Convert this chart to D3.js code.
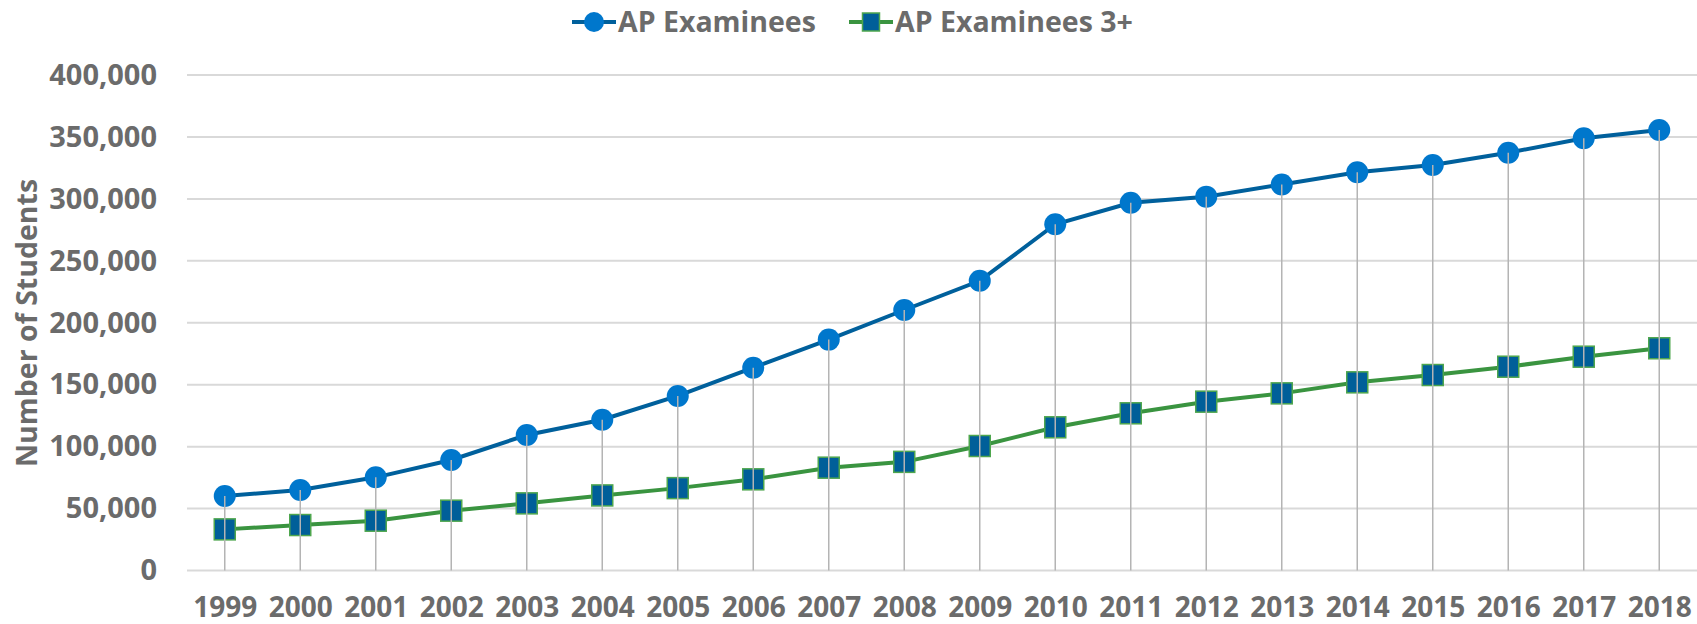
<!DOCTYPE html>
<html>
<head>
<meta charset="utf-8">
<script src="https://cdn.jsdelivr.net/npm/d3@7"></script>
<style>
  body { margin: 0; background: #fff; }
  text { font-family: "Open Sans", "Noto Sans", sans-serif; font-weight: 700; fill: #6b6b6b; }
</style>
</head>
<body>
<div id="chart"></div>
<script>
const years = ["1999","2000","2001","2002","2003","2004","2005","2006","2007","2008",
               "2009","2010","2011","2012","2013","2014","2015","2016","2017","2018"];
const examinees = [60100, 65000, 75200, 89200, 109400, 121700, 140900, 163700, 186400, 210300,
                   233900, 279500, 296900, 301800, 311600, 321500, 327300, 337300, 348900, 355600];
const examinees3 = [33200, 36700, 40200, 48300, 54200, 60600, 66500, 73600, 83000, 87700,
                    100500, 115600, 126900, 136300, 143000, 151900, 157800, 164500, 172600, 179400];
const yTicks = [0, 50000, 100000, 150000, 200000, 250000, 300000, 350000, 400000];
const seriesNames = ["AP Examinees", "AP Examinees 3+"];

const W = 1697, H = 624;
const margin = {top: 75, right: 0, bottom: 53.5, left: 187};
const w = W - margin.left - margin.right,
      h = H - margin.top - margin.bottom;

const svg = d3.select("#chart")
  .append("svg")
  .attr("width", W)
  .attr("height", H);

const g = svg.append("g")
  .attr("transform", "translate(" + margin.left + "," + margin.top + ")");

const x = d3.scalePoint()
  .domain(years)
  .range([0, w])
  .padding(0.5);

const y = d3.scaleLinear()
  .domain([0, 400000])
  .range([h, 0]);

// gridlines
g.append("g")
  .selectAll("line")
  .data(yTicks)
  .enter()
  .append("line")
  .attr("x1", 0)
  .attr("x2", w)
  .attr("y1", d => y(d))
  .attr("y2", d => y(d))
  .style("stroke", "#d9d9d9")
  .style("stroke-width", 2);

// y axis labels
const yAxis = d3.axisLeft(y)
  .tickValues(yTicks)
  .tickSize(0)
  .tickPadding(30)
  .tickFormat(d3.format(","));

g.append("g")
  .attr("class", "y-axis")
  .call(yAxis)
  .call(s => s.select(".domain").remove())
  .selectAll("text")
  .style("font-size", "29px")
  .attr("fill", "#6b6b6b");

// x axis labels
const xAxis = d3.axisBottom(x).tickSize(0).tickPadding(27);
g.append("g")
  .attr("transform", "translate(0," + h + ")")
  .call(xAxis)
  .call(s => s.select(".domain").remove())
  .selectAll("text")
  .style("font-size", "28px")
  .attr("fill", "#6b6b6b");

// y title
svg.append("text")
  .attr("transform", "translate(" + 37 + "," + 323 + ") rotate(-90)")
  .attr("text-anchor", "middle")
  .style("font-size", "28.5px")
  .text("Number of Students");

// lines
const line = d3.line()
  .x((d, i) => x(years[i]))
  .y(d => y(d));

g.append("path")
  .datum(examinees)
  .attr("d", line)
  .style("fill", "none")
  .style("stroke", "#00609c")
  .style("stroke-width", 4);

g.append("path")
  .datum(examinees3)
  .attr("d", line)
  .style("fill", "none")
  .style("stroke", "#3a9440")
  .style("stroke-width", 4);

// markers
g.selectAll("circle.pt")
  .data(examinees)
  .enter()
  .append("circle")
  .attr("class", "pt")
  .attr("cx", (d, i) => x(years[i]))
  .attr("cy", d => y(d))
  .attr("r", 11)
  .style("fill", "#0077cc");

const sq = 21;
g.selectAll("rect.pt")
  .data(examinees3)
  .enter()
  .append("rect")
  .attr("class", "pt")
  .attr("x", (d, i) => x(years[i]) - sq / 2)
  .attr("y", d => y(d) - sq / 2)
  .attr("width", sq)
  .attr("height", sq)
  .style("fill", "#005f99")
  .style("stroke", "#4ea64e")
  .style("stroke-width", 1.5);

// drop lines
g.selectAll("line.drop")
  .data(examinees)
  .enter()
  .append("line")
  .attr("class", "drop")
  .attr("x1", (d, i) => x(years[i]))
  .attr("x2", (d, i) => x(years[i]))
  .attr("y1", d => y(d))
  .attr("y2", h)
  .style("stroke", "#b4b4b4")
  .style("stroke-width", 1.5);

// legend
const legend = svg.append("g").attr("transform", "translate(0,22)");
const legItems = [
  {name: seriesNames[0], x: 572, type: "circle", line: "#00609c"},
  {name: seriesNames[1], x: 849, type: "rect", line: "#3a9440"}
];
legItems.forEach(it => {
  const lg = legend.append("g").attr("transform", "translate(" + it.x + ",0)");
  lg.append("line")
    .attr("x1", 0).attr("x2", 44)
    .attr("y1", 0).attr("y2", 0)
    .style("stroke", it.line)
    .style("stroke-width", 4);
  if (it.type === "circle") {
    lg.append("circle").attr("cx", 22).attr("cy", 0).attr("r", 10).style("fill", "#0077cc");
  } else {
    lg.append("rect").attr("x", 13.5).attr("y", -9).attr("width", 17).attr("height", 18)
      .style("fill", "#005f99").style("stroke", "#4ea64e").style("stroke-width", 1.5);
  }
  lg.append("text")
    .attr("x", 46)
    .attr("y", 0)
    .attr("dy", "0.35em")
    .style("font-size", "28.5px")
    .text(it.name);
});
</script>
</body>
</html>
